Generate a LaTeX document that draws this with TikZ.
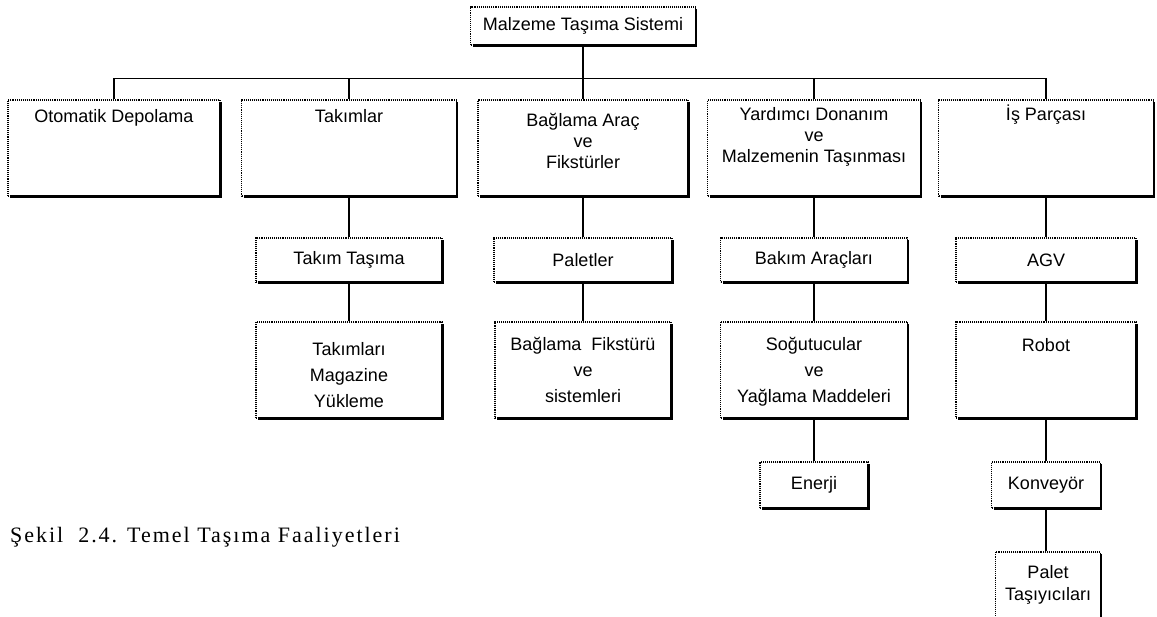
\documentclass[tikz,border=0pt]{standalone}
\usepackage{fontspec}
\setmainfont{Liberation Sans}
\newfontfamily\seriffont{Liberation Serif}
\usetikzlibrary{positioning}

\begin{document}
\begin{tikzpicture}[x=1pt,y=-1pt]
\tikzset{font=\fontsize{18}{21}\selectfont}
\tikzset{kutu/.style={draw, densely dotted, line width=1.1pt, inner sep=0pt}}
\tikzset{yazi/.style={inner sep=0pt, align=center, font=\fontsize{18}{21}\selectfont}}
\tikzset{genis/.style={font=\fontsize{18}{26}\selectfont}}
\tikzset{golge/.style={solid, line width=2.6pt}}
\tikzset{hat/.style={line width=1.2pt}}
\useasboundingbox (0,0) rectangle (1157,617);
\clip (0,0) rectangle (1157,617);

% ana kutu
\node[kutu, minimum width=225pt, minimum height=38pt] (kok) at (583,26) {Malzeme Taşıma Sistemi};

% birinci sira
\node[kutu, minimum width=212pt, minimum height=96pt] (otomatik) at (114,148) {};
\node[kutu, minimum width=215pt, minimum height=96pt] (takimlar) at (349,148) {};
\node[kutu, minimum width=210pt, minimum height=96pt] (baglama) at (583,148) {};
\node[kutu, minimum width=213pt, minimum height=96pt] (yardimci) at (814,148) {};
\node[kutu, minimum width=215pt, minimum height=96pt] (is) at (1046,148) {};
\node[yazi, below=10pt of otomatik.north] (otomatik-y) {Otomatik Depolama};
\node[yazi, below=10pt of takimlar.north] (takimlar-y) {Takımlar};
\node[yazi, below=14pt of baglama.north] (baglama-y) {Bağlama Araç\\ve\\Fikstürler};
\node[yazi, below=8pt of yardimci.north] (yardimci-y) {Yardımcı Donanım\\ve\\Malzemenin Taşınması};
\node[yazi, below=5pt of is.north] (is-y) {İş Parçası};

% ikinci sira
\node[kutu, minimum width=186pt, minimum height=44pt] (takimtasima) at (349,260) {Takım Taşıma};
\node[kutu, minimum width=178pt, minimum height=44pt] (paletler) at (583,260) {Paletler};
\node[kutu, minimum width=187pt, minimum height=44pt] (bakim) at (814,260) {Bakım Araçları};
\node[kutu, minimum width=180pt, minimum height=44pt] (agv) at (1046,260) {AGV};

% ucuncu sira
\node[kutu, minimum width=186pt, minimum height=96pt] (magazine) at (349,370) {};
\node[kutu, minimum width=176pt, minimum height=96pt] (fikstur) at (583,370) {};
\node[kutu, minimum width=187pt, minimum height=96pt] (sogutucu) at (814,370) {};
\node[kutu, minimum width=180pt, minimum height=96pt] (robot) at (1046,370) {};
\node[yazi, genis, below=21pt of magazine.north] (magazine-y) {Takımları\\Magazine\\Yükleme};
\node[yazi, genis, below=16pt of fikstur.north] (fikstur-y) {Bağlama~ Fikstürü\\ve\\sistemleri};
\node[yazi, genis, below=16pt of sogutucu.north] (sogutucu-y) {Soğutucular\\ve\\Yağlama Maddeleri};
\node[yazi, below=17pt of robot.north] (robot-y) {Robot};

% alt kutular
\node[kutu, minimum width=108pt, minimum height=46pt] (enerji) at (814,485) {Enerji};
\node[kutu, minimum width=109pt, minimum height=46pt] (konveyor) at (1046,485) {Konveyör};
\node[kutu, minimum width=105pt, minimum height=88pt] (palet) at (1048,596) {};
\node[yazi, font=\fontsize{18}{22}\selectfont, below=14pt of palet.north] (palet-y) {Palet\\Taşıyıcıları};

% kalin kenarlar
\foreach \k in {kok,otomatik,takimlar,baglama,yardimci,is,takimtasima,paletler,bakim,agv,magazine,fikstur,sogutucu,robot,enerji,konveyor,palet}
  \draw[golge] ([yshift=-3pt]\k.north east) -- (\k.south east) -- ([xshift=3pt]\k.south west);

% baglantilar
\coordinate (bus) at ([yshift=-33pt]kok.south);
\draw[hat] (kok.south) -- (bus);
\foreach \k in {otomatik,takimlar,baglama,yardimci,is}
  \draw[hat] (bus) -| (\k.north);
\draw[hat] (takimlar.south) -- (takimtasima.north);
\draw[hat] (takimtasima.south) -- (magazine.north);
\draw[hat] (baglama.south) -- (paletler.north);
\draw[hat] (paletler.south) -- (fikstur.north);
\draw[hat] (yardimci.south) -- (bakim.north);
\draw[hat] (bakim.south) -- (sogutucu.north);
\draw[hat] (sogutucu.south) -- (enerji.north);
\draw[hat] (is.south) -- (agv.north);
\draw[hat] (agv.south) -- (robot.north);
\draw[hat] (robot.south) -- (konveyor.north);
\draw[hat] (konveyor.south) -- (konveyor.south |- palet.north);

% baslik
\node[anchor=base west, inner sep=0pt, font=\seriffont\fontsize{22}{26}\selectfont\addfontfeature{LetterSpace=9}] (baslik) at (10,542) {Şekil\ \ 2.4. Temel Taşıma Faaliyetleri};
\end{tikzpicture}
\end{document}
